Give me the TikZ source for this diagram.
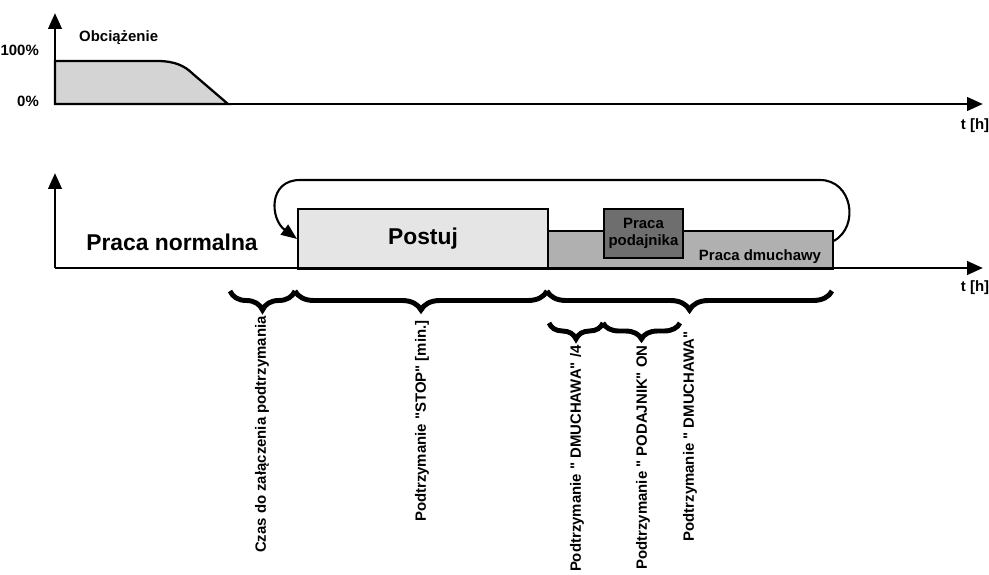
\documentclass[tikz,border=0pt]{standalone}
\usepackage{fontspec}
\setmainfont{Liberation Sans}
\usetikzlibrary{arrows.meta,decorations.pathreplacing}

\tikzset{
 axis/.style={line width=1.7pt,-{Triangle[length=9pt,width=7.5pt]}},
 box/.style={draw,line width=1.1pt,inner sep=0,anchor=north west},
 brc/.style={decorate,decoration={brace,amplitude=#1},line width=2.8pt},
 vlab/.style={rotate=90,anchor=east,inner sep=0},
 lbl/.style={font=\bfseries\fontsize{8.5}{10}\selectfont},
 big/.style={font=\bfseries\fontsize{13}{15}\selectfont}
}
\newcommand\qt{\textquotedbl}

\begin{document}
\begin{tikzpicture}[x=0.2mm,y=-0.2mm]
\useasboundingbox (0,0) rectangle (989,574);
% obciazenie
\coordinate (o1) at (55,104);
\coordinate (y1) at (55,13);
\coordinate (t1) at (983,104);
\filldraw[fill=gray!34,line width=1.3pt] (o1) -- (55,61) -- (157,61)
 .. controls (175,61) and (185,66) .. (193,74) -- (228,104) -- cycle;
\draw[axis] (o1) -- (y1);
\draw[axis] (o1) -- (t1);
\node[lbl,anchor=east] (p100) at (45,50) {100\%};
\node[lbl,anchor=east] (p0) at (45,101) {0\%};
\node[lbl,anchor=west] (obc) at (73,38) {Obciążenie};
\node[lbl] (th1) at (975,126) {t [h]};

% praca
\coordinate (o2) at (55,268);
\coordinate (y2) at (55,173);
\coordinate (t2) at (983,268);
\node[big] (norm) at (172,242) {Praca normalna};
\node[box,big,fill=gray!20,minimum width=50mm,minimum height=12mm] (postuj) at (297,208) {\raisebox{-2pt}{Postuj}};
\node[box,fill=gray!62,minimum width=57mm,minimum height=7.6mm] (dmu) at (547,230) {};
\node[box,lbl,fill=black!57,minimum width=15.8mm,minimum height=9.8mm,align=center] (pod) at (603,208) {Praca\\podajnika};
\node[lbl] (dmulbl) at (760,257) {Praca dmuchawy};
\draw[axis] (o2) -- (y2);
\draw[axis] (o2) -- (t2);
\node[lbl] (th2) at (975,288) {t [h]};
\draw[line width=1.2pt,-{Triangle[length=9pt,width=7pt]}] (dmu.east) ++(0,-9)
 .. controls +(26,-15) and +(32,0) .. (820,180) -- (300,180)
 .. controls +(-32,0) and +(-27,-20) .. (postuj.west);

% klamry
\draw[brc=3.8mm] (295,291) -- (230,291);
\draw[brc=3.8mm] (547,291) -- (295,291);
\draw[brc=3.8mm] (832,291) -- (547,291);
\draw[brc=3.2mm] (603,323) -- (549,323);
\draw[brc=3.2mm] (680,323) -- (603,323);
\node[lbl,vlab] (czas) at (262,316) {Czas do załączenia podtrzymania};
\node[lbl,vlab] (stop) at (422,320) {Podtrzymanie \qt STOP\qt{} [min.]};
\node[lbl,vlab] (dm4) at (577,345) {Podtrzymanie \qt{} DMUCHAWA\qt{} /4};
\node[lbl,vlab] (podon) at (643,345) {Podtrzymanie \qt{} PODAJNIK\qt{} ON};
\node[lbl,vlab] (dmon) at (690,331) {Podtrzymanie \qt{} DMUCHAWA\qt};
\end{tikzpicture}
\end{document}
